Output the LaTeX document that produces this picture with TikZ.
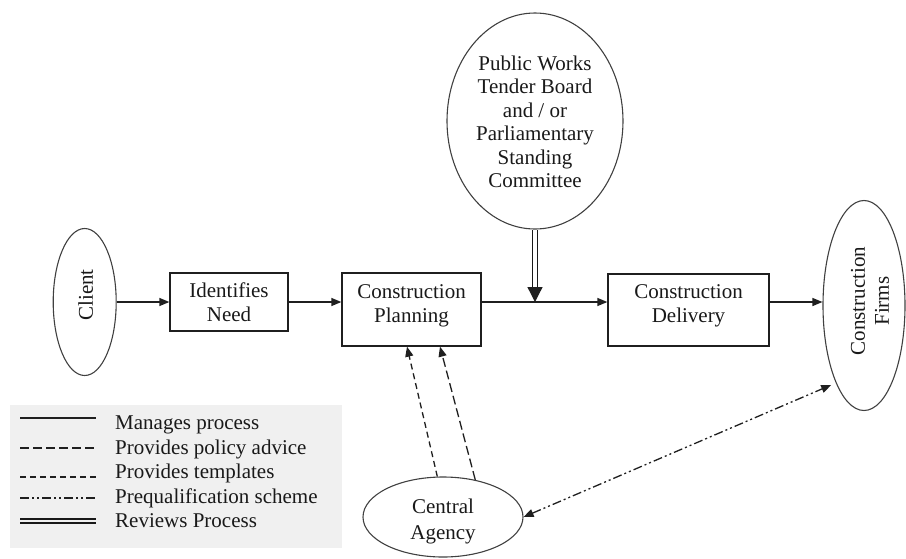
\documentclass[tikz,border=0pt]{standalone}
\usepackage{fontspec}
\setmainfont{Liberation Serif}
\usetikzlibrary{shapes.geometric,arrows.meta,calc}
\begin{document}
\begin{tikzpicture}[x=1pt,y=-1pt,
  font=\fontsize{21}{24}\selectfont,
  ln/.style={line width=1.3pt, draw=black!88},
  box/.style={draw=black!88, line width=1.3pt, rectangle, inner sep=0pt},
  ell/.style={draw=black!75, line width=1.1pt, ellipse, inner sep=0pt},
  txt/.style={align=center, inner sep=0pt, text=black!90},
  tip/.style={-{Triangle[length=10pt,width=8pt]}},
  twotip/.style={{Triangle[length=10pt,width=8pt]}-{Triangle[length=10pt,width=8pt]}},
  policy/.style={dash pattern=on 9pt off 4pt},
  templ/.style={dash pattern=on 6pt off 4pt},
  prequal/.style={dash pattern=on 9pt off 3pt on 2pt off 3pt on 2pt off 3pt},
]
\useasboundingbox (0,0) rectangle (906,558);

% legend background
\fill[black!6] (10,405) rectangle (342,548);

% nodes
\node[ell, minimum width=63pt, minimum height=147pt] (client) at (84.7,302) {};
\node[txt, rotate=90] at ([xshift=1pt,yshift=7pt]client.center) {Client};

\node[box, txt, minimum width=118pt, minimum height=58pt] (need) at (229,302) {Identifies\\Need};

\node[box, minimum width=139pt, minimum height=73pt] (plan) at (411.5,309.5) {};
\node[txt] at ([yshift=4pt]plan.center) {Construction\\Planning};

\node[box, minimum width=161pt, minimum height=72pt] (deliv) at (688.5,310) {};
\node[txt] at ([yshift=4pt]deliv.center) {Construction\\Delivery};

\node[ell, minimum width=82pt, minimum height=210pt] (firms) at (864,305.5) {};
\node[txt, rotate=90] at (870,301) {Construction\\Firms};

\node[ell, minimum width=176pt, minimum height=216pt] (pw) at (535,121) {};
\node[txt, font=\fontsize{21}{23.5}\selectfont] at ([yshift=-1pt]pw.center) {Public Works\\Tender Board\\and / or\\Parliamentary\\Standing\\Committee};

\node[ell, minimum width=160pt, minimum height=80pt] (ca) at (443,517) {};
\node[txt, font=\fontsize{21}{26}\selectfont] at ([yshift=-4pt]ca.center) {Central\\Agency};

\coordinate (j) at (535,302);

% manages process connectors
\draw[ln,tip] (client.east) -- (client.east -| need.west);
\draw[ln,tip] (need.east) -- (need.east -| plan.west);
\draw[ln,tip] (j -| plan.east) -- (j -| deliv.west);
\draw[ln,tip] (j -| deliv.east) -- (j -| firms.west);

% reviews process
\draw[double=white, draw=black!90, double distance=3.5pt, line width=1.6pt] (pw.south) -- ([yshift=13pt]j);
\draw[ln, -{Triangle[length=15pt,width=15pt]}] ([yshift=15pt]j) -- (j);

% central agency connectors
\draw[ln, tip, templ] (ca.98) -- ([xshift=-4.5pt]plan.south);
\draw[ln, tip, policy] (ca.49) -- ([xshift=28.5pt]plan.south);
\draw[ln, twotip, prequal, shorten >=5pt] (ca.east) -- (firms.250);

% legend
\node[txt, anchor=base west] (t1) at (115,429) {Manages process};
\node[txt, anchor=base west] (t2) at (115,454) {Provides policy advice};
\node[txt, anchor=base west] (t3) at (115,478) {Provides templates};
\node[txt, anchor=base west] (t4) at (115,503) {Prequalification scheme};
\node[txt, anchor=base west] (t5) at (115,527) {Reviews Process};
\draw[ln] (20,418) -- (96,418);
\draw[ln, policy] (20,448) -- (96,448);
\draw[ln, templ] (20,477) -- (96,477);
\draw[ln, prequal] (20,498) -- (96,498);
\draw[double=black!6, draw=black!90, double distance=2.5pt, line width=1.4pt] (20,521) -- (96,521);
\end{tikzpicture}
\end{document}
